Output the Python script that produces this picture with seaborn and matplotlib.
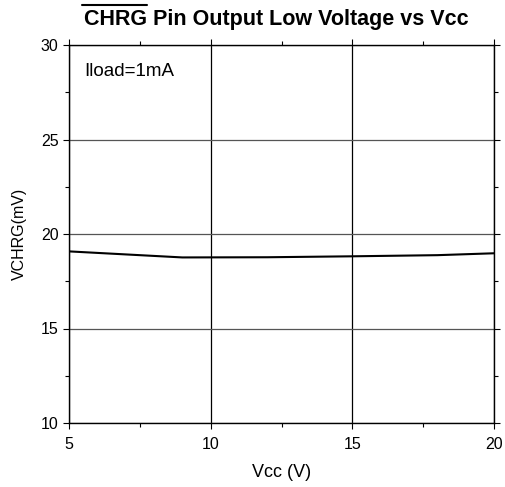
import numpy as np
import pandas as pd
import matplotlib
matplotlib.use('Agg')
import matplotlib.pyplot as plt
from matplotlib.lines import Line2D
from matplotlib.ticker import MultipleLocator
import seaborn as sns

# data
vcc = [5, 7, 9, 12, 15, 18, 20]
vchrg = [19.08, 18.92, 18.76, 18.77, 18.82, 18.88, 18.98]

df = pd.DataFrame({'Vcc': vcc, 'VCHRG': vchrg})

sns.set_style('white')
plt.rcParams['font.family'] = ['Liberation Sans', 'DejaVu Sans']
plt.rcParams['text.color'] = 'black'
plt.rcParams['axes.labelcolor'] = 'black'
plt.rcParams['xtick.color'] = 'black'
plt.rcParams['ytick.color'] = 'black'

fig = plt.figure(figsize=(5.05, 4.87), dpi=100)
ax = fig.add_axes([69 / 505, 1 - 423 / 487, (494 - 69) / 505, (423 - 45) / 487])

sns.lineplot(data=df, x='Vcc', y='VCHRG', color='black', linewidth=1.5, ax=ax)

ax.set_xlim(5, 20)
ax.set_ylim(10, 30)
ax.xaxis.set_major_locator(MultipleLocator(5))
ax.xaxis.set_minor_locator(MultipleLocator(2.5))
ax.yaxis.set_major_locator(MultipleLocator(5))
ax.yaxis.set_minor_locator(MultipleLocator(2.5))
ax.xaxis.grid(True, which='major', color='black', linewidth=0.9)
ax.yaxis.grid(True, which='major', color='#555555', linewidth=0.9)
ax.tick_params(which='both', direction='out', top=True, right=True,
               bottom=True, left=True, color='black', labelsize=11.5)
ax.tick_params(which='major', length=4, width=0.8)
ax.tick_params(which='minor', length=3, width=0.8)
ax.tick_params(axis='x', which='major', pad=6)
for s in ax.spines.values():
    s.set_color('black')
    s.set_linewidth(1.0)

ax.set_xlabel('Vcc (V)', fontsize=13, labelpad=9)
ax.set_ylabel('VCHRG(mV)', fontsize=11.5, labelpad=10)
ax.text(0.037, 0.952, 'Iload=1mA', transform=ax.transAxes, fontsize=13.5,
        ha='left', va='top')

# title with overline on CHRG
t = fig.text(0.5475, 1 - 19 / 487, 'CHRG Pin Output Low Voltage vs Vcc',
             fontsize=15.5, fontweight='bold', ha='center', va='center')
fig.canvas.draw()
r = fig.canvas.get_renderer()
bb = t.get_window_extent(r)
tmp = fig.text(0, 0, 'CHRG', fontsize=15.5, fontweight='bold')
wb = tmp.get_window_extent(r)
tmp.remove()
x0 = (bb.x0 - 2) / fig.bbox.width
x1 = (bb.x0 + wb.width) / fig.bbox.width
yl = 1 - 5 / 487
fig.add_artist(Line2D([x0, x1], [yl, yl], color='black', linewidth=1.5,
                      transform=fig.transFigure))

fig.savefig('out.png', dpi=100)
